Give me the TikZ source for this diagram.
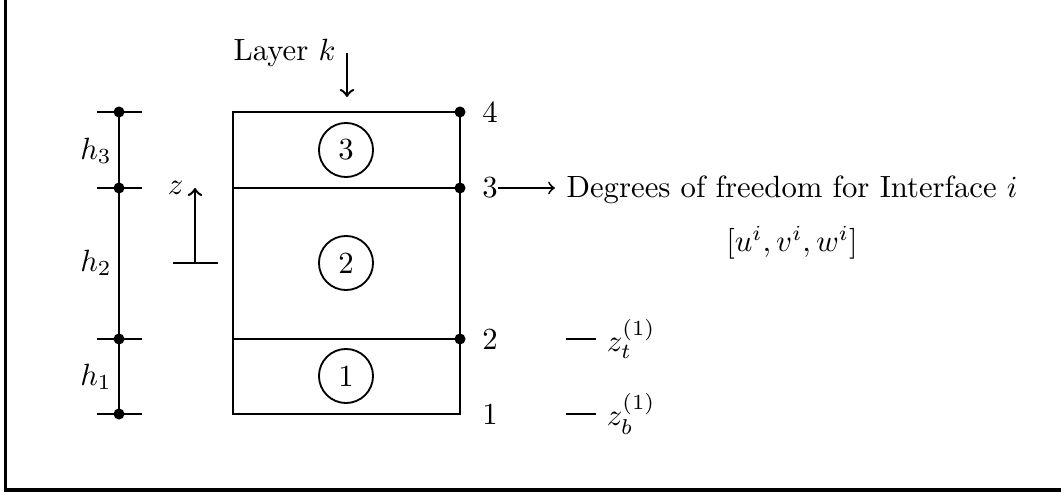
\documentclass[tikz,border=0pt]{standalone}
\begin{document}
\begin{tikzpicture}[x=0.3255pt,y=-0.3255pt,
  line/.style={thick},
  thinline/.style={semithick},
  layerno/.style={circle,draw,semithick,minimum size=17.6pt,inner sep=0pt},
  digit/.style={inner sep=0pt},
  dotr/.style={radius=1.8pt}]
\useasboundingbox (0,0) rectangle (1061,493);
% frame (only its left and bottom edges lie inside the picture)
\coordinate (fTL) at (5.5,-3);
\coordinate (fBL) at (5.5,490);
\coordinate (fBR) at (1070,490);
\draw[line width=1pt] (fTL) -- (fBL) -- (fBR);

% layered box
\coordinate (b1L) at (233,414); \coordinate (b1R) at (460,414);
\coordinate (b2L) at (233,339); \coordinate (b2R) at (460,339);
\coordinate (b3L) at (233,188); \coordinate (b3R) at (460,188);
\coordinate (b4L) at (233,112); \coordinate (b4R) at (460,112);
\draw[line] (b4R) -- (b4L) -- (b1L) -- (b1R) -- cycle;
\draw[line] (b3L) -- (b3R);
\draw[line] (b2L) -- (b2R);
\foreach \n in {2,3,4} \fill (b\n R) circle[dotr];

% layer numbers
\node[layerno] (L3) at (346,150) {3};
\node[layerno] (L2) at (346,263) {2};
\node[layerno] (L1) at (346,376) {1};

% interface numbers
\node[digit] (n4) at (490,112) {4};
\node[digit] (n3) at (490,188) {3};
\node[digit] (n2) at (490,339) {2};
\node[digit] (n1) at (490,414) {1};

% degrees of freedom
\node[anchor=base west,inner sep=0pt] (dof) at (566,198) {Degrees of freedom for Interface $i$};
\node (dofv) at (792,243) {$[u^i,v^i,w^i]$};
\draw[thinline,->,shorten >=3.6pt] (n3.east) -- (n3.east -| dof.west);

% z_t, z_b labels
\coordinate (zt0) at (566,339);
\node[right] (ztl) at (596,339) {$z_t^{(1)}$};
\draw[thinline] (zt0) -- (ztl.west);
\coordinate (zb0) at (566,414);
\node[right] (zbl) at (596,414) {$z_b^{(1)}$};
\draw[thinline] (zb0) -- (zbl.west);

% layer k arrow
\coordinate (lk0) at (347,97);
\coordinate (lk1) at (347,53);
\draw[line,<-] (lk0) -- (lk1) node[left] (lk) {Layer $k$};

% thickness dimension bar
\foreach \y/\n in {112/4,188/3,339/2,414/1} {
  \coordinate (m\n) at (119,\y);
  \draw[line] (97,\y) -- (142,\y);
}
\draw[line] (m4) -- (m1);
\foreach \n in {1,2,3,4} \fill (m\n) circle[dotr];
\node (h3) at (96,151) {$h_3$};
\node (h2) at (96,263) {$h_2$};
\node (h1) at (96,377) {$h_1$};

% z axis
\coordinate (za) at (195,263);
\coordinate (zz) at (195,188);
\draw[line] (173,263) -- (218,263);
\draw[line,->] (za) -- (zz) node[left] (zl) {$z$};
\end{tikzpicture}
\end{document}
